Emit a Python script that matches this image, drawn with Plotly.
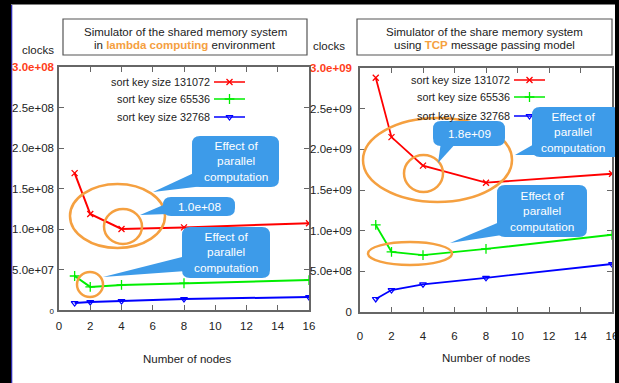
import plotly.graph_objects as go

# ---- data -------------------------------------------------------------
nodes = [1, 2, 4, 8, 16]

# shared memory simulator, lambda computing environment (clocks)
lam_131072 = [1.69e8, 1.185e8, 1.0e8, 1.02e8, 1.07e8]
lam_65536 = [4.2e7, 2.85e7, 3.1e7, 3.3e7, 3.7e7]
lam_32768 = [8.6e6, 9.9e6, 1.1e7, 1.36e7, 1.6e7]

# share memory simulator, TCP message passing model (clocks)
tcp_131072 = [2.88e9, 2.15e9, 1.8e9, 1.59e9, 1.70e9]
tcp_65536 = [1.07e9, 7.4e8, 7.0e8, 7.75e8, 9.5e8]
tcp_32768 = [1.6e8, 2.7e8, 3.4e8, 4.2e8, 5.9e8]

series_names = ["sort key size 131072", "sort key size 65536", "sort key size 32768"]
x_ticks = [0, 2, 4, 6, 8, 10, 12, 14, 16]
lam_yticks = [0, 5e7, 1e8, 1.5e8, 2e8, 2.5e8, 3e8]
tcp_yticks = [0, 5e8, 1e9, 1.5e9, 2e9, 2.5e9, 3e9]

# ---- styling ------------------------------------------------------------
W, H = 619, 383
FONT = "Liberation Sans, Arial, sans-serif"
TXT = "#222222"
AXC = "#666666"
RED, GREEN, BLUE = "#ff0000", "#00ee00", "#0000ff"
ORANGE = "#f5a040"
CALLOUT = "#3d9be9"
HILITE = "#ff3d1a"

markers = [
    dict(symbol="x-thin", size=6, line=dict(width=1.3, color=RED), color=RED),
    dict(symbol="cross-thin", size=7, line=dict(width=1.3, color=GREEN), color=GREEN),
    dict(symbol="triangle-down-open", size=6, line=dict(width=1.2, color=BLUE), color=BLUE),
]
colors = [RED, GREEN, BLUE]


def dom_x(a, b):
    return [a / W, b / W]


def dom_y(top, bottom):
    return [1 - bottom / H, 1 - top / H]


def sci(v):
    return f"{v:.1e}" if v else "0"


fig = go.Figure()

# data traces
for ys, c, m in zip([lam_131072, lam_65536, lam_32768], colors, markers):
    fig.add_trace(go.Scatter(x=nodes, y=ys, mode="lines+markers", xaxis="x", yaxis="y",
                             line=dict(color=c, width=2), marker=m, showlegend=False))
for ys, c, m in zip([tcp_131072, tcp_65536, tcp_32768], colors, markers):
    fig.add_trace(go.Scatter(x=nodes, y=ys, mode="lines+markers", xaxis="x2", yaxis="y2",
                             line=dict(color=c, width=1.8), marker=m, showlegend=False))

shapes = []
annotations = []


def pix_text(x, y, text, size=11, color=TXT, xanchor="center"):
    annotations.append(dict(xref="x3", yref="y3", x=x, y=y, text=text, showarrow=False,
                            xanchor=xanchor, yanchor="middle",
                            font=dict(family=FONT, size=size, color=color)))


# key (text right-aligned, sample line with marker to its right)
key_rows = [
    (212, 214, 245, [82, 99, 117]),
    (512, 514, 545, [80, 97, 116]),
]
for text_end, lx0, lx1, rows in key_rows:
    for name, c, y in zip(series_names, colors, rows):
        pix_text(text_end, y, name, size=10.8, xanchor="right")
        shapes.append(dict(type="line", xref="x3", yref="y3", x0=lx0, x1=lx1, y0=y, y1=y,
                           line=dict(color=c, width=1.5), layer="above"))
for text_end, lx0, lx1, rows in key_rows:
    for y, m in zip(rows, markers):
        fig.add_trace(go.Scatter(x=[(lx0 + lx1) / 2], y=[y], mode="markers", xaxis="x3",
                                 yaxis="y3", marker=m, showlegend=False, hoverinfo="skip"))

# title boxes
for x0, x1, l1, l2 in [
    (63, 307, "Simulator of the shared memory system",
     f"in <b><span style='color:{ORANGE}'>lambda computing</span></b> environment"),
    (357, 612, "Simulator of the share memory system",
     f"using <b><span style='color:{ORANGE}'>TCP</span></b> message passing model"),
]:
    shapes.append(dict(type="rect", xref="x3", yref="y3", x0=x0, x1=x1, y0=19, y1=55,
                       line=dict(color="#555555", width=1.2), layer="above"))
    pix_text((x0 + x1) / 2, 31.5, l1, size=11.5)
    pix_text((x0 + x1) / 2, 45, l2, size=11.5)

pix_text(38, 50, "clocks", size=11.5)
pix_text(329, 46, "clocks", size=11.5)
pix_text(187, 359, "Number of nodes", size=11.5)
pix_text(486, 358, "Number of nodes", size=11.5)

# highlight ellipses
for x0, y0, x1, y1 in [(70, 184, 165, 248), (104, 209, 142, 244), (77, 272, 103, 297),
                       (363, 118, 512, 202), (404, 155, 443, 192), (368, 242, 452, 265)]:
    shapes.append(dict(type="circle", xref="x3", yref="y3", x0=x0, x1=x1, y0=y0, y1=y1,
                       line=dict(color=ORANGE, width=2.5), layer="above"))


def rounded(x0, y0, x1, y1, r):
    return (f"M{x0 + r},{y0} L{x1 - r},{y0} Q{x1},{y0} {x1},{y0 + r} "
            f"L{x1},{y1 - r} Q{x1},{y1} {x1 - r},{y1} L{x0 + r},{y1} "
            f"Q{x0},{y1} {x0},{y1 - r} L{x0},{y0 + r} Q{x0},{y0} {x0 + r},{y0} Z")


effect = "Effect of<br>parallel<br>computation"
callouts = [
    # box, tail triangle, text
    ((192, 136, 279, 187), [(153, 192), (196, 172), (212, 185)], effect),
    ((163, 197, 235, 216), [(140, 215), (168, 203), (168, 214)], sci(lam_131072[2])),
    ((182, 227, 270, 278), [(103, 277), (186, 256), (186, 271)], effect),
    ((433, 121, 505, 146), [(438, 163), (441, 142), (457, 142)], sci(tcp_131072[2])),
    ((532, 107, 620, 157), [(515, 155), (536, 143), (536, 155)], effect),
    ((497, 185, 587, 237), [(450, 243), (502, 221), (502, 235)], effect),
]
for (x0, y0, x1, y1), tail, text in callouts:
    shapes.append(dict(type="path", xref="x3", yref="y3", path=rounded(x0, y0, x1, y1, 8),
                       fillcolor=CALLOUT, line=dict(width=0), layer="above"))
    tp = "M" + " L".join(f"{a},{b}" for a, b in tail) + " Z"
    shapes.append(dict(type="path", xref="x3", yref="y3", path=tp,
                       fillcolor=CALLOUT, line=dict(width=0), layer="above"))
    cx = (x0 + min(x1, 614)) / 2
    pix_text(cx, (y0 + y1) / 2, text, size=11.8, color="white")

# dark frame around the figure
shapes += [
    dict(type="rect", xref="paper", yref="paper", x0=0, x1=11 / W, y0=0, y1=1,
         fillcolor="black", line=dict(width=0), layer="above"),
    dict(type="rect", xref="paper", yref="paper", x0=11 / W, x1=12.3 / W, y0=0, y1=1 - 5 / H,
         fillcolor="#2b2bb0", line=dict(width=0), layer="above"),
    dict(type="rect", xref="paper", yref="paper", x0=0, x1=1, y0=1 - 4.5 / H, y1=1,
         fillcolor="black", line=dict(width=0), layer="above"),
    dict(type="rect", xref="paper", yref="paper", x0=615 / W, x1=1, y0=0, y1=1,
         fillcolor="black", line=dict(width=0), layer="above"),
]

axis_common = dict(showline=True, linecolor=AXC, linewidth=1.5, mirror="ticks",
                   ticks="inside", ticklen=5, tickcolor=AXC, tickwidth=1.2,
                   showgrid=False, zeroline=False, fixedrange=True, automargin=False,
                   tickfont=dict(family=FONT, size=11.5, color=TXT))

lam_ytext = [sci(v) for v in lam_yticks]
lam_ytext[0] = "<span style='font-size:8px'>0</span>"
lam_ytext[-1] = f"<b><span style='color:{HILITE}'>{lam_ytext[-1]}</span></b>"
tcp_ytext = [sci(v) for v in tcp_yticks]
tcp_ytext[-1] = f"<b><span style='color:{HILITE}'>{tcp_ytext[-1]}</span></b>"

fig.update_layout(
    template="none",
    width=W, height=H, margin=dict(l=0, r=0, t=0, b=0, pad=0, autoexpand=False),
    paper_bgcolor="white", plot_bgcolor="rgba(0,0,0,0)",
    showlegend=False,
    xaxis=dict(domain=dom_x(59, 309), range=[0, 16], anchor="y",
               tickvals=x_ticks, ticktext=[str(v) for v in x_ticks],
               ticklabelstandoff=4, **axis_common),
    yaxis=dict(domain=dom_y(67, 310), range=[0, 3e8], anchor="x",
               tickvals=lam_yticks, ticktext=lam_ytext, ticklabelstandoff=1, **axis_common),
    xaxis2=dict(domain=dom_x(360, 612), range=[0, 16], anchor="y2",
                tickvals=x_ticks, ticktext=[str(v) for v in x_ticks],
                ticklabelstandoff=12, **axis_common),
    yaxis2=dict(domain=dom_y(68, 312), range=[0, 3e9], anchor="x2",
                tickvals=tcp_yticks, ticktext=tcp_ytext, ticklabelstandoff=4, **axis_common),
    xaxis3=dict(domain=[0, 1], range=[0, W], anchor="y3", visible=False,
                fixedrange=True, automargin=False),
    yaxis3=dict(domain=[0, 1], range=[H, 0], anchor="x3", visible=False,
                fixedrange=True, automargin=False),
    shapes=shapes,
    annotations=annotations,
)

fig.write_html("out.html")
